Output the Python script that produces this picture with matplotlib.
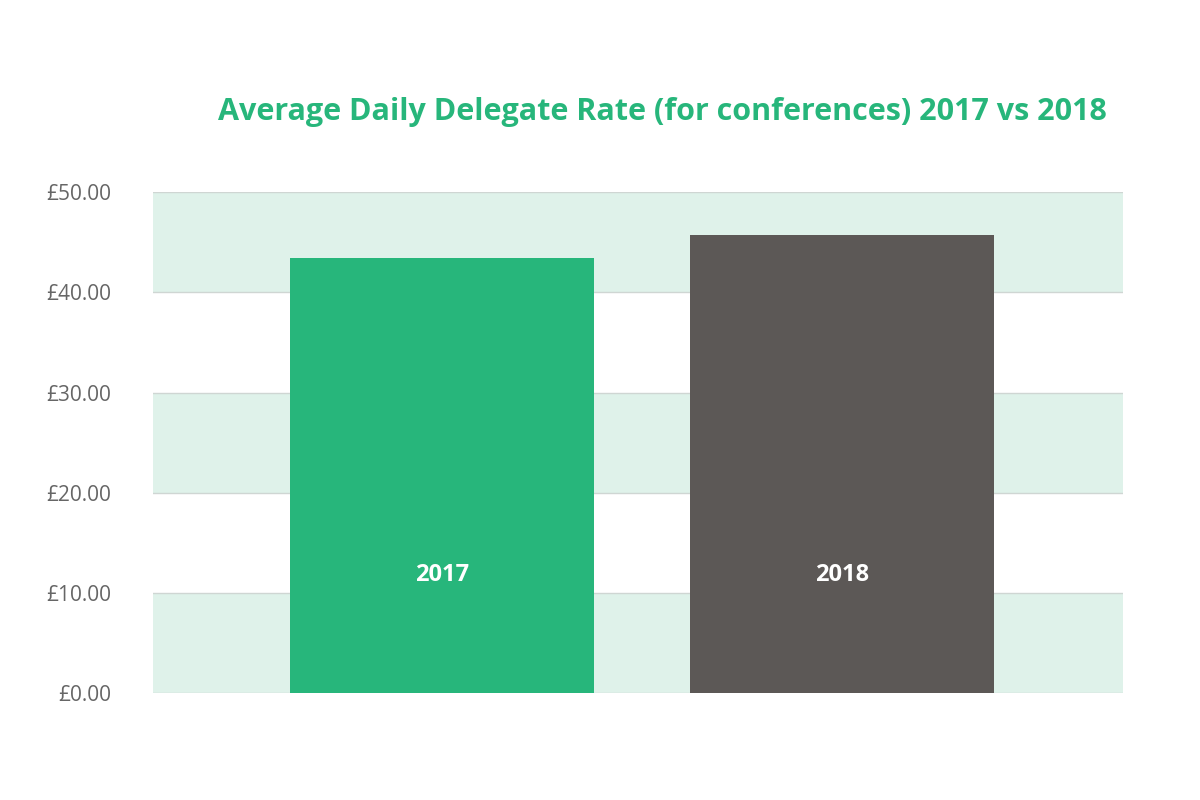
import matplotlib
matplotlib.use("Agg")
import matplotlib.pyplot as plt

years = ["2017", "2018"]
values = [43.4, 45.7]
colors = ["#27b67b", "#5c5856"]
ticks = [0, 10, 20, 30, 40, 50]
tick_labels = ["£0.00", "£10.00", "£20.00", "£30.00", "£40.00", "£50.00"]

plt.rcParams['font.family'] = ['Open Sans', 'DejaVu Sans']
fig = plt.figure(figsize=(12, 8), dpi=100)
ax = fig.add_axes([0.1275, 0.13375, 0.8083, 0.626])
for lo in (0, 20, 40):
    ax.axhspan(lo, lo + 10, color="#dff2ea", zorder=0, lw=0)
for t in ticks:
    ax.axhline(t, color="#cfd6d3", lw=1, zorder=1)
x = list(range(len(years)))
ax.bar(x, values, width=0.76, color=colors, zorder=2)
for xi, y in zip(x, years):
    ax.text(xi, 11.8, y, ha="center", va="center", color="white",
            fontsize=17, fontweight="bold", zorder=3)
ax.set_xlim(-0.7225, 1.7025)
ax.set_ylim(0, 50)
ax.set_yticks(ticks)
ax.set_yticklabels(tick_labels, fontsize=15, color="#666666")
ax.tick_params(axis="y", length=0, pad=30)
ax.set_xticks([])
for s in ax.spines.values():
    s.set_visible(False)
fig.text(0.552, 0.86, "Average Daily Delegate Rate (for conferences) 2017 vs 2018",
         ha="center", va="center", color="#27b67b", fontsize=22, fontweight="bold")
fig.savefig("out.png", dpi=100)
